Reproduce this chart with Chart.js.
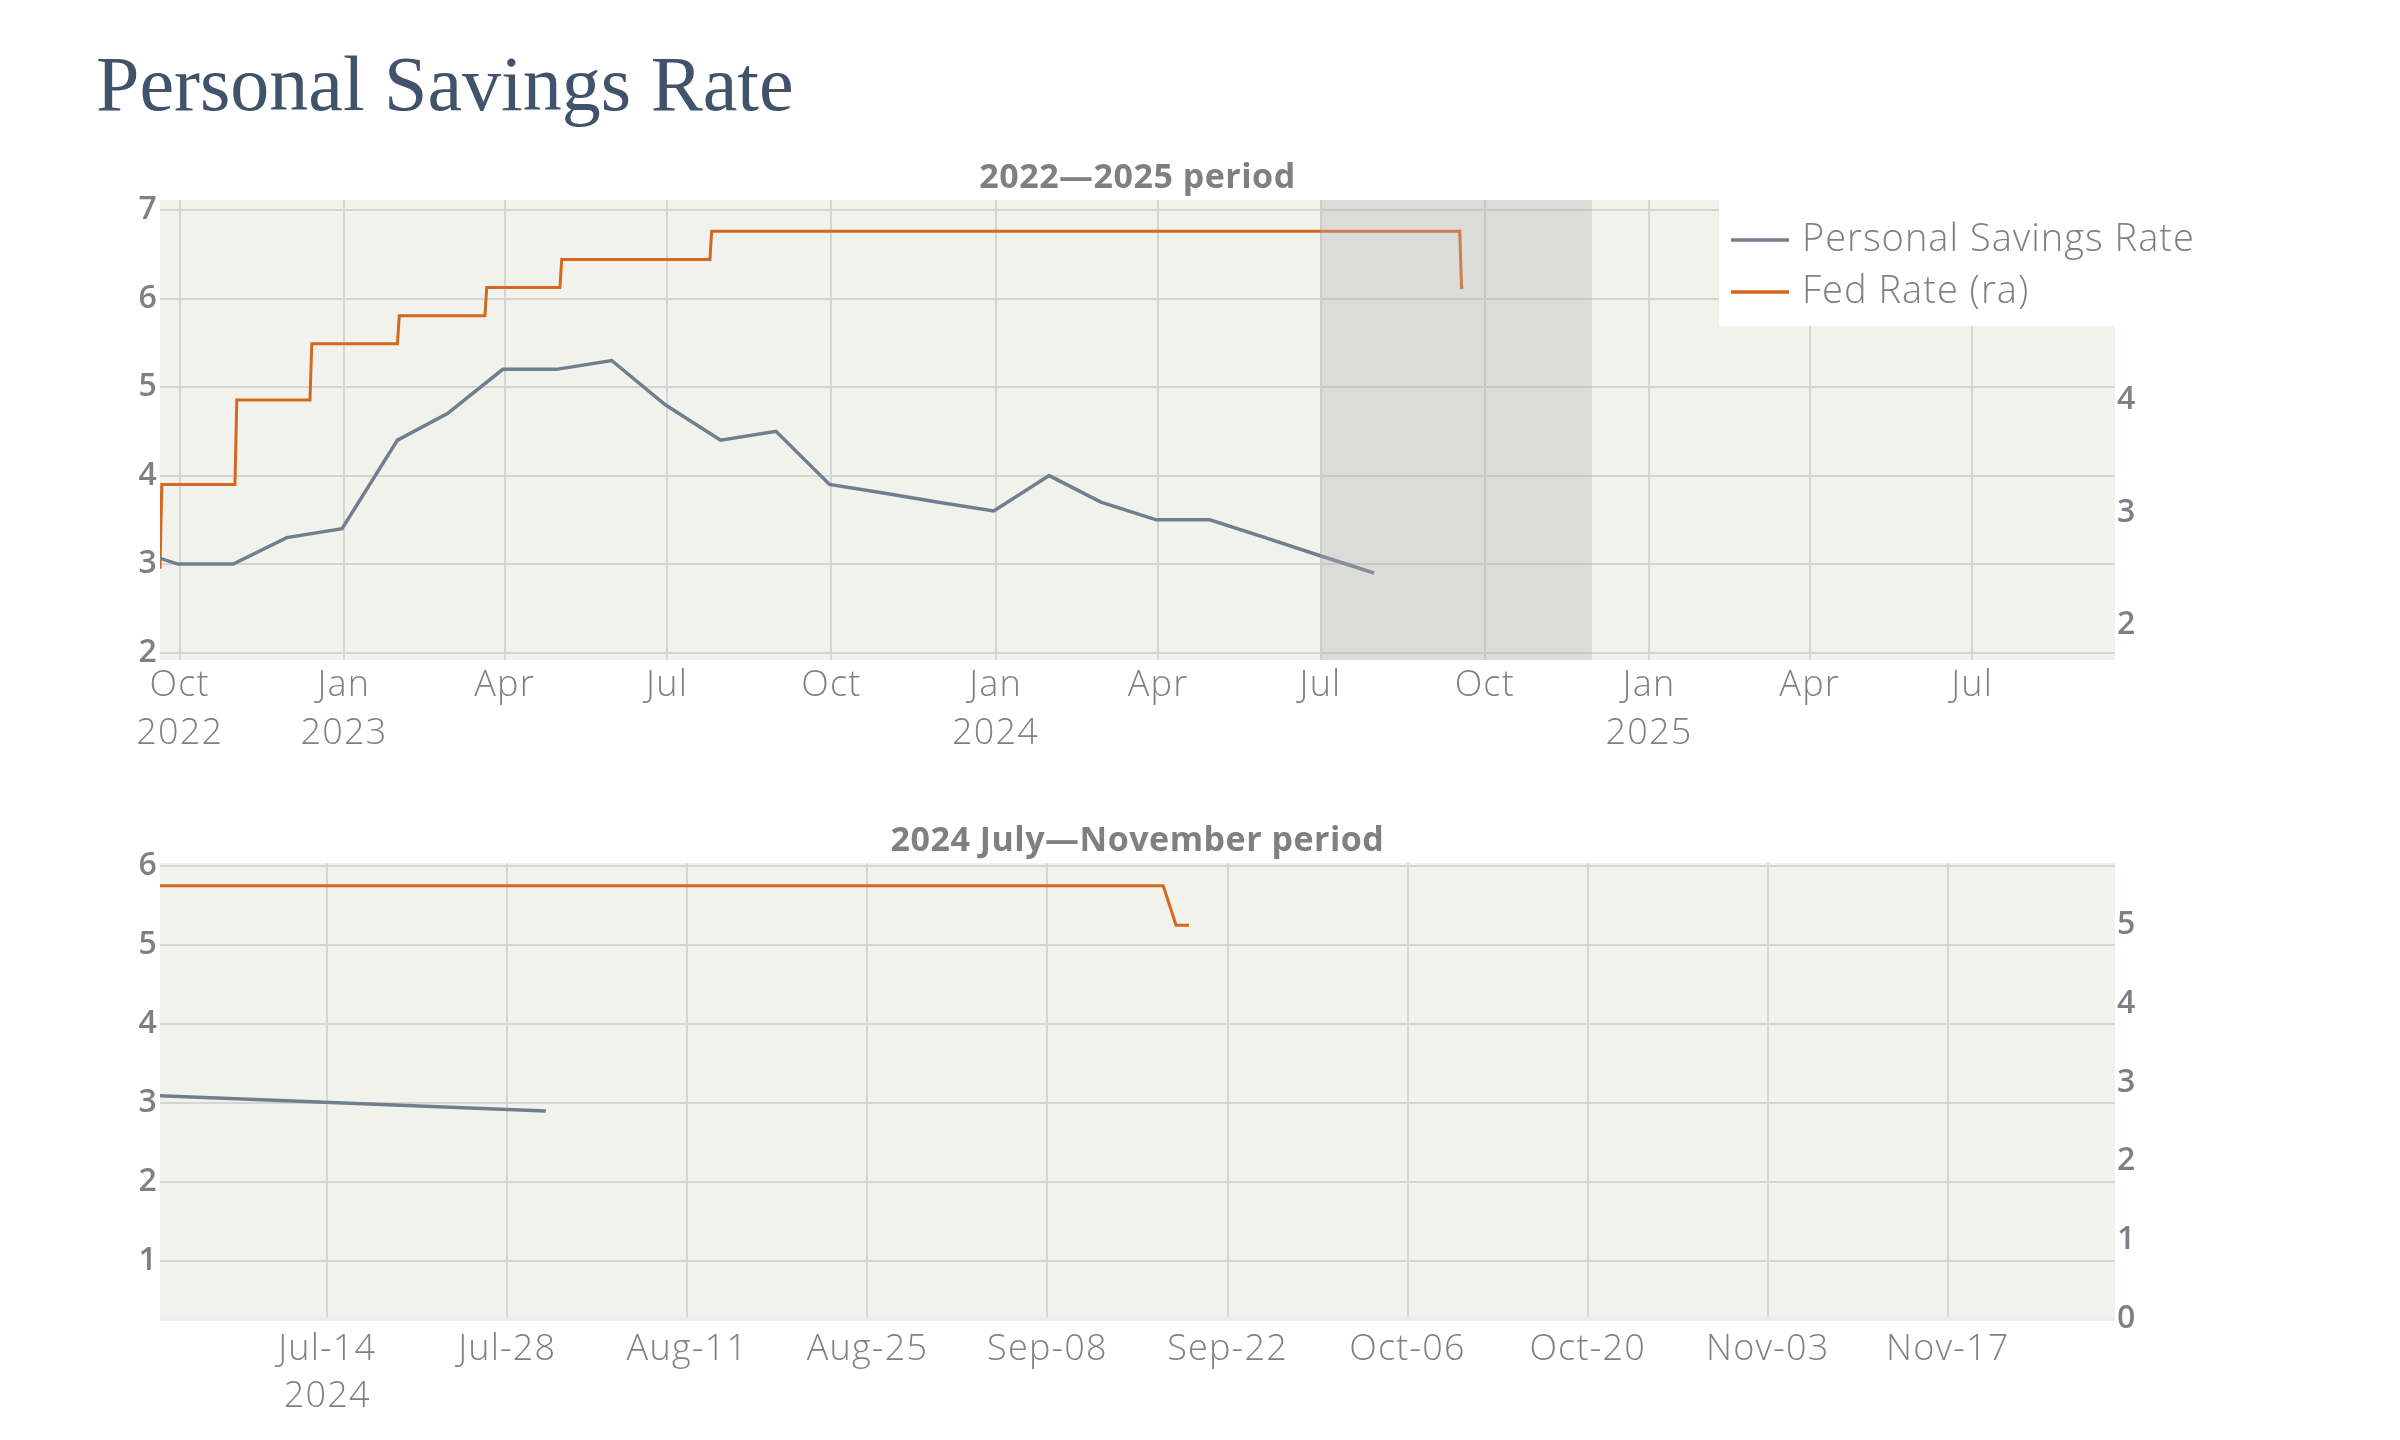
<!DOCTYPE html>
<html><head><meta charset="utf-8">
<script src="https://cdn.jsdelivr.net/npm/chart.js@4.4.1/dist/chart.umd.min.js"></script>
<style>
html,body{margin:0;padding:0;background:#fff;width:2400px;height:1440px;overflow:hidden}
.box{position:absolute;left:0;width:2400px}
</style></head><body>
<div class="box" style="top:0;height:760px"><canvas id="c1" width="2400" height="760"></canvas></div>
<div class="box" style="top:760px;height:680px"><canvas id="c2" width="2400" height="680"></canvas></div>
<script>
// ---------- data ----------
const mainTitle = 'Personal Savings Rate';
const topSubtitle = '2022\u20142025 period';
const bottomSubtitle = '2024 July\u2014November period';
const seriesNames = ['Personal Savings Rate', 'Fed Rate (ra)'];

const savingsDates = ['2022-08-31','2022-09-30','2022-10-31','2022-11-30','2022-12-31','2023-01-31','2023-02-28','2023-03-31','2023-04-30','2023-05-31','2023-06-30','2023-07-31','2023-08-31','2023-09-30','2023-10-31','2023-11-30','2023-12-31','2024-01-31','2024-02-29','2024-03-31','2024-04-30','2024-05-31','2024-06-30','2024-07-31'];
const savingsValues = [3.2,3.0,3.0,3.3,3.4,4.4,4.7,5.2,5.2,5.3,4.8,4.4,4.5,3.9,3.8,3.7,3.6,4.0,3.7,3.5,3.5,3.3,3.1,2.9];

const fedDates = ['2022-09-20','2022-09-21','2022-11-01','2022-11-02','2022-12-13','2022-12-14','2023-01-31','2023-02-01','2023-03-21','2023-03-22','2023-05-02','2023-05-03','2023-07-25','2023-07-26','2024-09-17','2024-09-18','2024-09-19'];
const fedValues = [2.5,3.25,3.25,4.0,4.0,4.5,4.5,4.75,4.75,5.0,5.0,5.25,5.25,5.5,5.5,5.0,5.0];

const topRange = ['2022-09-20','2025-09-19'];
const bottomRange = ['2024-07-01','2024-11-30'];
const highlightRange = ['2024-07-01','2024-11-30'];

const topTickDates = ['2022-10-01','2023-01-01','2023-04-01','2023-07-01','2023-10-01','2024-01-01','2024-04-01','2024-07-01','2024-10-01','2025-01-01','2025-04-01','2025-07-01'];
const topTickLabels = [['Oct','2022'],['Jan','2023'],['Apr'],['Jul'],['Oct'],['Jan','2024'],['Apr'],['Jul'],['Oct'],['Jan','2025'],['Apr'],['Jul']];
const bottomTickDates = ['2024-07-14','2024-07-28','2024-08-11','2024-08-25','2024-09-08','2024-09-22','2024-10-06','2024-10-20','2024-11-03','2024-11-17'];
const bottomTickLabels = [['Jul-14','2024'],['Jul-28'],['Aug-11'],['Aug-25'],['Sep-08'],['Sep-22'],['Oct-06'],['Oct-20'],['Nov-03'],['Nov-17']];

const topLeftTicks = [2,3,4,5,6,7];
const topRightTicks = [2,3,4,5];
const bottomLeftTicks = [1,2,3,4,5,6];
const bottomRightTicks = [0,1,2,3,4,5];

const topLeftRange = [1.917, 7.113];
const topRightRange = [1.689, 5.778];
const bottomLeftRange = [0.262, 6.04];
const bottomRightRange = [-0.01, 5.79];

// ---------- style ----------
const SLATE = '#6f7f90';
const ORANGE = '#d2691e';
const GRID = '#d5d5d3';
const PLOTBG = '#f2f2ed';
const TXT = '#808080';
const FONT = "'Open Sans', 'DejaVu Sans', sans-serif";

const ts = d => new Date(d + 'T00:00:00Z').getTime();

function datasets() {
  return [
    {label: seriesNames[0], data: savingsDates.map((d,i)=>({x:ts(d), y:savingsValues[i]})), yAxisID:'y',
     borderColor: SLATE, backgroundColor: SLATE, borderWidth: 3.5, pointRadius: 0, tension: 0, fill: false, clip: 0},
    {label: seriesNames[1], data: fedDates.map((d,i)=>({x:ts(d), y:fedValues[i]})), yAxisID:'y1',
     borderColor: ORANGE, backgroundColor: ORANGE, borderWidth: 3, pointRadius: 0, tension: 0, fill: false, clip: 0}
  ];
}

const bgPlugin = {
  id: 'plotbg',
  beforeDraw(chart) {
    const a = chart.chartArea, ctx = chart.ctx;
    ctx.letterSpacing = '1.2px';
    ctx.save(); ctx.fillStyle = PLOTBG;
    ctx.fillRect(a.left, a.top, a.right - a.left, a.bottom - a.top);
    ctx.restore();
  },
  afterDraw(chart) { chart.ctx.letterSpacing = '0px'; }
};

function subtitlePlugin(text) {
  return {
    id: 'subt',
    afterDraw(chart) {
      const a = chart.chartArea, ctx = chart.ctx;
      ctx.save();
      ctx.letterSpacing = '0.5px';
      ctx.font = "700 34px " + FONT;
      ctx.fillStyle = TXT; ctx.textAlign = 'center'; ctx.textBaseline = 'middle';
      ctx.fillText(text, (a.left + a.right) / 2, a.top - 22);
      ctx.restore();
    }
  };
}

function axisOpts(ticks, range, pos, width, grid) {
  return {
    type: 'linear', position: pos, min: range[0], max: range[1],
    afterBuildTicks: s => { s.ticks = ticks.map(v => ({value: v})); },
    afterFit: s => { s.width = width; },
    ticks: {font: {family: FONT, size: 32, weight: '600'}, color: TXT, padding: 2},
    grid: grid ? {color: GRID, lineWidth: 2, drawTicks: false} : {display: false, drawTicks: false},
    border: {display: false}
  };
}

function xOpts(range, tickDates, tickLabels, height, pad) {
  return {
    type: 'linear', min: ts(range[0]), max: ts(range[1]),
    afterBuildTicks: s => { s.ticks = tickDates.map(d => ({value: ts(d)})); },
    afterFit: s => { s.height = height; },
    ticks: {callback: (v, i) => tickLabels[i], font: {family: FONT, size: 36, weight: '300', lineHeight: 1.32},
            color: TXT, padding: pad, maxRotation: 0, autoSkip: false},
    grid: {color: GRID, lineWidth: 2, drawTicks: false},
    border: {display: false}
  };
}

// ---------- top chart ----------
const shadePlugin = {
  id: 'shade',
  afterDatasetsDraw(chart) {
    const a = chart.chartArea, ctx = chart.ctx, x = chart.scales.x;
    const x0 = x.getPixelForValue(ts(highlightRange[0])), x1 = x.getPixelForValue(ts(highlightRange[1]));
    ctx.save(); ctx.fillStyle = 'rgba(176,176,172,0.34)';
    ctx.fillRect(x0, a.top, x1 - x0, a.bottom - a.top);
    ctx.restore();
  }
};

const mainTitlePlugin = {
  id: 'maintitle',
  afterDraw(chart) {
    const ctx = chart.ctx;
    ctx.save();
    ctx.letterSpacing = '0px';
    ctx.font = "400 78px 'Liberation Serif', 'DejaVu Serif', serif";
    ctx.fillStyle = '#41526b'; ctx.textAlign = 'left'; ctx.textBaseline = 'alphabetic';
    ctx.fillText(mainTitle, 96, 110);
    ctx.restore();
  }
};

const legendPlugin = {
  id: 'customLegend',
  afterDraw(chart) {
    const ctx = chart.ctx, a = chart.chartArea;
    const bx = 1719, by = a.top, bw = 500, bh = 126;
    ctx.save();
    ctx.fillStyle = '#ffffff';
    ctx.fillRect(bx, by, bw, bh);
    chart.data.datasets.forEach((ds, i) => {
      const y = by + 40 + i * 52;
      ctx.strokeStyle = ds.borderColor; ctx.lineWidth = 3.5;
      ctx.beginPath(); ctx.moveTo(bx + 12, y); ctx.lineTo(bx + 70, y); ctx.stroke();
      ctx.letterSpacing = '1px';
      ctx.font = "300 38px " + FONT; ctx.fillStyle = TXT;
      ctx.textAlign = 'left'; ctx.textBaseline = 'middle';
      ctx.fillText(ds.label, bx + 83, y);
    });
    ctx.restore();
  }
};

new Chart(document.getElementById('c1'), {
  type: 'line',
  data: {datasets: datasets()},
  options: {
    responsive: false, animation: false, devicePixelRatio: 1,
    layout: {padding: {left: 0, right: 185, top: 200, bottom: 0}},
    plugins: {legend: {display: false}, tooltip: {enabled: false}, title: {display: false}},
    scales: {
      x: xOpts(topRange, topTickDates, topTickLabels, 100, 2),
      y: axisOpts(topLeftTicks, topLeftRange, 'left', 160, true),
      y1: axisOpts(topRightTicks, topRightRange, 'right', 100, false)
    }
  },
  plugins: [bgPlugin, shadePlugin, subtitlePlugin(topSubtitle), mainTitlePlugin, legendPlugin]
});

// ---------- bottom chart ----------
const zeroLinePlugin = {
  id: 'zeroline',
  beforeDatasetsDraw(chart) {
    const a = chart.chartArea, ctx = chart.ctx;
    const y = chart.scales.y1.getPixelForValue(0);
    ctx.save(); ctx.strokeStyle = '#e6ebf4'; ctx.lineWidth = 4;
    ctx.beginPath(); ctx.moveTo(a.left, y); ctx.lineTo(a.right, y); ctx.stroke();
    ctx.restore();
  }
};

new Chart(document.getElementById('c2'), {
  type: 'line',
  data: {datasets: datasets()},
  options: {
    responsive: false, animation: false, devicePixelRatio: 1,
    layout: {padding: {left: 0, right: 185, top: 103, bottom: 0}},
    plugins: {legend: {display: false}, tooltip: {enabled: false}, title: {display: false}},
    scales: {
      x: xOpts(bottomRange, bottomTickDates, bottomTickLabels, 120.5, 6),
      y: axisOpts(bottomLeftTicks, bottomLeftRange, 'left', 160, true),
      y1: axisOpts(bottomRightTicks, bottomRightRange, 'right', 100, false)
    }
  },
  plugins: [bgPlugin, zeroLinePlugin, subtitlePlugin(bottomSubtitle)]
});
</script>
</body></html>
